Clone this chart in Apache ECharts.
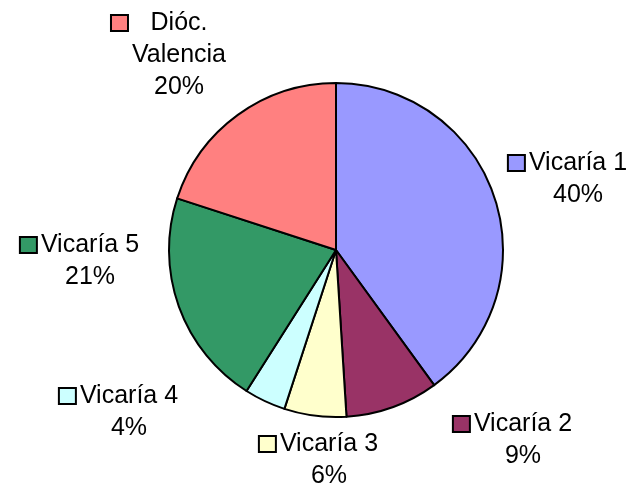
<!DOCTYPE html>
<html>
<head>
<meta charset="utf-8">
<script src="https://cdn.jsdelivr.net/npm/echarts@6/dist/echarts.min.js"></script>
<style>
  html, body { margin: 0; padding: 0; background: #fff; }
  #chart { width: 631px; height: 490px; }
</style>
</head>
<body>
<div id="chart"></div>
<script>
  // data
  const categories = ['Vicaría 1', 'Vicaría 2', 'Vicaría 3', 'Vicaría 4', 'Vicaría 5', 'Dióc. Valencia'];
  const values = [40, 9, 6, 4, 21, 20];
  const colors = ['#9999FF', '#993366', '#FFFFCC', '#CCFFFF', '#339966', '#FF8080'];

  // label anchors: [text centre x, first line middle y]
  const labelAnchors = [[578, 163], [523, 424], [329, 444], [129, 396], [90, 245], [179, 23]];

  const LINE_H = 32;
  const KEY_W = 20; // key square + gap

  let rich = {
    t: { fontFamily: 'Liberation Sans, Arial', fontSize: 25, color: '#000', lineHeight: LINE_H, align: 'center' },
    g: { width: 5, lineHeight: LINE_H, align: 'left' },
    p: { width: KEY_W, lineHeight: LINE_H, align: 'left' }
  };
  colors.forEach((c, i) => {
    rich['sq' + i] = { width: 15, height: 14, backgroundColor: c, borderColor: '#000', borderWidth: 2, lineHeight: LINE_H, align: 'left' };
  });

  function wrap(name) {
    return name.length > 10 ? name.split(' ') : [name];
  }

  let myChart = echarts.init(document.getElementById('chart'));
  let option = {
    backgroundColor: '#fff',
    animation: false,
    series: [
      {
        type: 'pie',
        center: [336, 250],
        radius: 167,
        startAngle: 90,
        clockwise: true,
        avoidLabelOverlap: false,
        color: colors,
        itemStyle: { borderColor: '#000', borderWidth: 2 },
        labelLine: { show: false },
        label: {
          show: true,
          position: 'inside',
          rich: rich,
          formatter: (p) => {
            let lines = wrap(p.name).concat([Math.round(p.percent) + '%']);
            return lines.map((l, k) => (k === 0 ? `{sq${p.dataIndex}|}{g|}` : '{p|}') + `{t|${l}}`).join('\n');
          }
        },
        labelLayout: (p) => {
          const a = labelAnchors[p.dataIndex];
          return { x: a[0] - KEY_W / 2, y: a[1] - LINE_H / 2, align: 'center', verticalAlign: 'top' };
        },
        emphasis: { disabled: true },
        data: categories.map((c, i) => ({ name: c, value: values[i] }))
      }
    ]
  };
  option && myChart.setOption(option);
</script>
</body>
</html>
